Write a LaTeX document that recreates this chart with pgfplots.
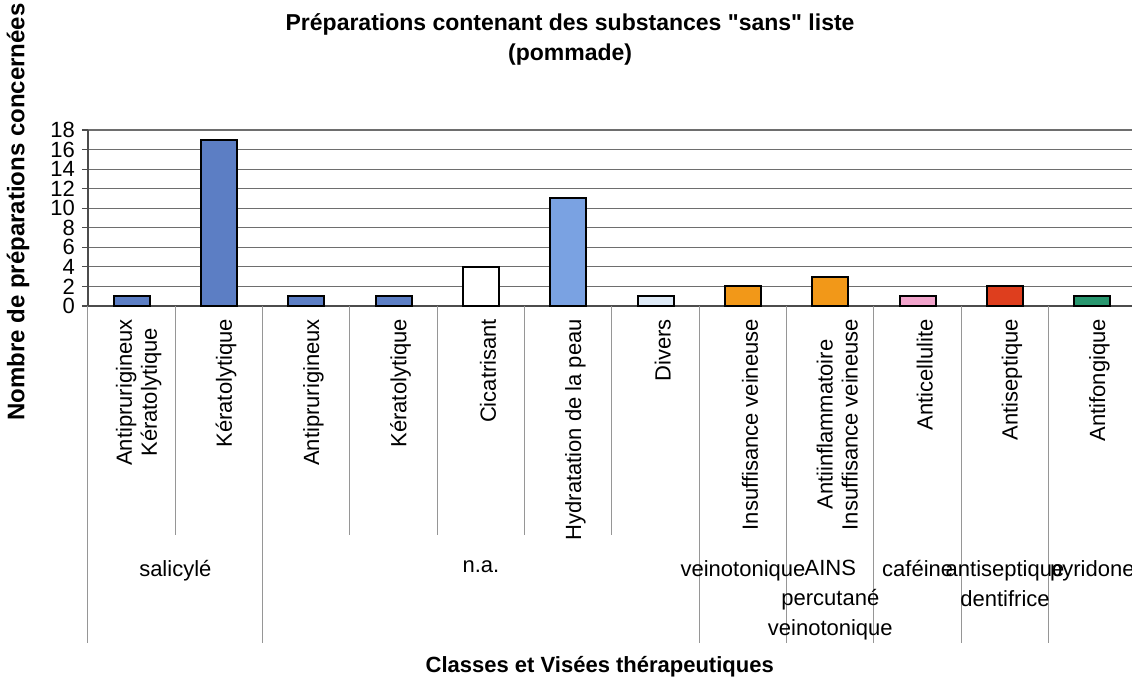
\documentclass[border=0pt]{standalone}
\usepackage{pgfplots}
\pgfplotsset{compat=1.18}
\usepackage{fontspec}
\setmainfont{Liberation Sans}[Ligatures=TeXOff]
\definecolor{cblue}{RGB}{92,126,196}
\definecolor{clblue}{RGB}{122,162,226}
\definecolor{cpale}{RGB}{222,234,247}
\definecolor{corange}{RGB}{242,152,24}
\definecolor{cpink}{RGB}{242,164,204}
\definecolor{cred}{RGB}{222,62,30}
\definecolor{cgreen}{RGB}{40,150,110}
\definecolor{gridc}{RGB}{110,110,110}
\definecolor{sepc}{RGB}{150,150,150}
\begin{document}
\begin{tikzpicture}
\useasboundingbox (-44pt,-186pt) rectangle (522pt,153pt);
\begin{axis}[
  at={(0,0)}, anchor=south west,
  scale only axis, width=524pt, height=88pt,
  xmin=-0.5, xmax=11.5, ymin=0, ymax=18,
  clip=false,
  axis x line=bottom, axis y line=left,
  axis line style={-, draw=black!70, line width=0.7pt},
  ytick={0,2,...,18},
  ymajorgrids, grid style={gridc, line width=0.6pt},
  tick align=outside, major tick length=3pt,
  ytick style={draw=black!70, line width=0.6pt},
  xtick={0,...,11},
  major x tick style={draw=none},
  xticklabels={{Antiprurigineux\\Kératolytique},Kératolytique,Antiprurigineux,Kératolytique,Cicatrisant,Hydratation de la peau,Divers,Insuffisance veineuse,{Antiinflammatoire\\Insuffisance veineuse},Anticellulite,Antiseptique,Antifongique},
  xticklabel style={rotate=90, anchor=east, align=center, yshift=-3.5pt, font=\fontsize{11}{12.5}\selectfont},
  yticklabel style={font=\fontsize{11}{12}\selectfont},
  /pgf/number format/assume math mode=true,
  ybar, bar width=18pt, bar shift=0pt,
  every axis plot/.append style={draw=black, line width=1pt},
]
\addplot[fill=cblue] coordinates {(0,1) (1,17) (2,1) (3,1)};
\addplot[fill=white] coordinates {(4,4)};
\addplot[fill=clblue] coordinates {(5,11)};
\addplot[fill=cpale] coordinates {(6,1)};
\addplot[fill=corange] coordinates {(7,2) (8,3)};
\addplot[fill=cpink] coordinates {(9,1)};
\addplot[fill=cred] coordinates {(10,2)};
\addplot[fill=cgreen] coordinates {(11,1)};
% separators
\pgfplotsinvokeforeach{0.5,2.5,3.5,4.5,5.5}{
  \draw[sepc, line width=0.5pt] (axis cs:#1,0) -- ++(0pt,-114.5pt);
}
\pgfplotsinvokeforeach{-0.5,1.5,6.5,7.5,8.5,9.5,10.5}{
  \draw[sepc, line width=0.5pt] (axis cs:#1,0) -- ++(0pt,-168.5pt);
}
% group labels
\begin{scope}[every node/.style={anchor=north, align=center, font=\fontsize{11}{15}\selectfont, inner sep=0pt}]
\node at ([yshift=-127pt]axis cs:0.5,0) {salicylé};
\node at ([yshift=-127pt]axis cs:4,0) {n.a.};
\node at ([yshift=-127pt]axis cs:7,0) {veinotonique};
\node at ([yshift=-127pt]axis cs:8,0) {AINS\\percutané\\veinotonique};
\node at ([yshift=-127pt]axis cs:9,0) {caféine};
\node at ([yshift=-127pt]axis cs:10,0) {antiseptique\\dentifrice};
\node at ([yshift=-127pt]axis cs:11,0) {pyridone};
\end{scope}
% titles
\node[align=center, font=\bfseries\fontsize{11.5}{15}\selectfont] at ([yshift=45.5pt]axis cs:5.02,18) {Préparations contenant des substances "sans" liste\\(pommade)};
\node[font=\bfseries\fontsize{12}{14}\selectfont, rotate=90] at ([xshift=-35pt]axis cs:-0.5,9.6) {Nombre de préparations concernées};
\node[font=\bfseries\fontsize{11}{13}\selectfont] at ([yshift=-180.5pt]axis cs:5.36,0) {Classes et Visées thérapeutiques};
\end{axis}
\end{tikzpicture}
\end{document}
